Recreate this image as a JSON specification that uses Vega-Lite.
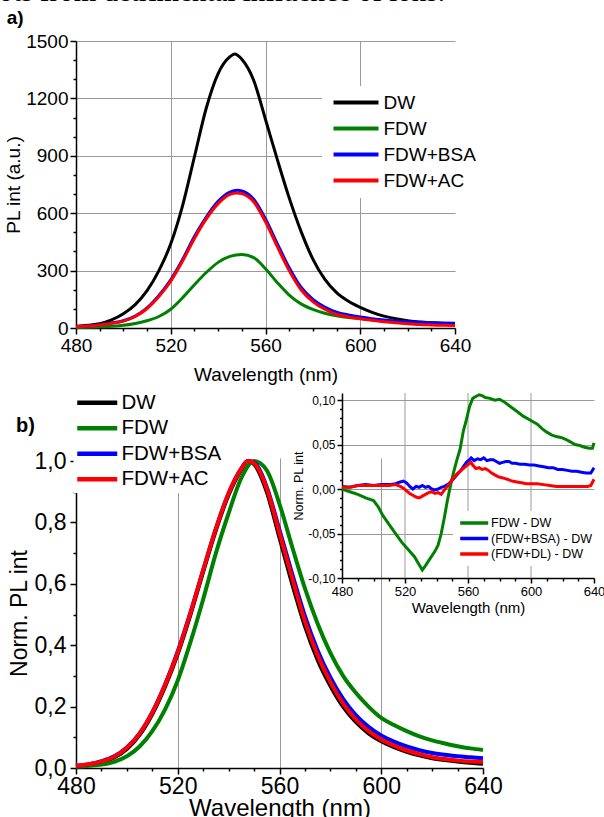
{
  "$schema": "https://vega.github.io/schema/vega-lite/v6.json",
  "padding": {"top": -22, "left": -2, "right": 0, "bottom": 0},
  "background": "white",
  "title": {"text": "ots from detrimental influence of ions.", "font": "Liberation Serif", "fontSize": 29, "fontWeight": "normal", "anchor": "start", "frame": "bounds", "color": "black", "offset": 2, "dx": -6},
  "datasets": {
    "a": [
      {"s":"DW","x":480,"y":8},{"s":"DW","x":485,"y":14},{"s":"DW","x":490,"y":22},{"s":"DW","x":495,"y":42},{"s":"DW","x":500,"y":74},{"s":"DW","x":505,"y":122},{"s":"DW","x":510,"y":195},{"s":"DW","x":515,"y":300},{"s":"DW","x":520,"y":440},{"s":"DW","x":525,"y":640},{"s":"DW","x":530,"y":895},{"s":"DW","x":535,"y":1150},{"s":"DW","x":540,"y":1330},{"s":"DW","x":545,"y":1418},{"s":"DW","x":547,"y":1432},{"s":"DW","x":550,"y":1405},{"s":"DW","x":555,"y":1295},{"s":"DW","x":560,"y":1090},{"s":"DW","x":565,"y":880},{"s":"DW","x":570,"y":680},{"s":"DW","x":575,"y":505},{"s":"DW","x":580,"y":360},{"s":"DW","x":585,"y":255},{"s":"DW","x":590,"y":185},{"s":"DW","x":595,"y":140},{"s":"DW","x":600,"y":108},{"s":"DW","x":605,"y":82},{"s":"DW","x":610,"y":62},{"s":"DW","x":615,"y":48},{"s":"DW","x":620,"y":38},{"s":"DW","x":625,"y":32},{"s":"DW","x":630,"y":27},{"s":"DW","x":635,"y":23},{"s":"DW","x":640,"y":21},
      {"s":"FDW","x":480,"y":3},{"s":"FDW","x":485,"y":4},{"s":"FDW","x":490,"y":6},{"s":"FDW","x":495,"y":9},{"s":"FDW","x":500,"y":14},{"s":"FDW","x":505,"y":24},{"s":"FDW","x":510,"y":38},{"s":"FDW","x":515,"y":60},{"s":"FDW","x":520,"y":98},{"s":"FDW","x":525,"y":158},{"s":"FDW","x":530,"y":226},{"s":"FDW","x":535,"y":290},{"s":"FDW","x":540,"y":343},{"s":"FDW","x":545,"y":374},{"s":"FDW","x":550,"y":384},{"s":"FDW","x":555,"y":368},{"s":"FDW","x":560,"y":310},{"s":"FDW","x":565,"y":237},{"s":"FDW","x":570,"y":172},{"s":"FDW","x":575,"y":126},{"s":"FDW","x":580,"y":97},{"s":"FDW","x":585,"y":77},{"s":"FDW","x":590,"y":64},{"s":"FDW","x":595,"y":55},{"s":"FDW","x":600,"y":49},{"s":"FDW","x":605,"y":43},{"s":"FDW","x":610,"y":37},{"s":"FDW","x":615,"y":32},{"s":"FDW","x":620,"y":28},{"s":"FDW","x":625,"y":24},{"s":"FDW","x":630,"y":21},{"s":"FDW","x":635,"y":19},{"s":"FDW","x":640,"y":18},
      {"s":"FDW+BSA","x":480,"y":8},{"s":"FDW+BSA","x":485,"y":11},{"s":"FDW+BSA","x":490,"y":17},{"s":"FDW+BSA","x":495,"y":26},{"s":"FDW+BSA","x":500,"y":38},{"s":"FDW+BSA","x":505,"y":62},{"s":"FDW+BSA","x":510,"y":105},{"s":"FDW+BSA","x":515,"y":170},{"s":"FDW+BSA","x":520,"y":252},{"s":"FDW+BSA","x":525,"y":358},{"s":"FDW+BSA","x":530,"y":478},{"s":"FDW+BSA","x":535,"y":580},{"s":"FDW+BSA","x":540,"y":662},{"s":"FDW+BSA","x":545,"y":710},{"s":"FDW+BSA","x":548,"y":720},{"s":"FDW+BSA","x":550,"y":716},{"s":"FDW+BSA","x":555,"y":673},{"s":"FDW+BSA","x":560,"y":570},{"s":"FDW+BSA","x":565,"y":440},{"s":"FDW+BSA","x":570,"y":315},{"s":"FDW+BSA","x":575,"y":213},{"s":"FDW+BSA","x":580,"y":150},{"s":"FDW+BSA","x":585,"y":110},{"s":"FDW+BSA","x":590,"y":83},{"s":"FDW+BSA","x":595,"y":68},{"s":"FDW+BSA","x":600,"y":57},{"s":"FDW+BSA","x":605,"y":49},{"s":"FDW+BSA","x":610,"y":42},{"s":"FDW+BSA","x":615,"y":37},{"s":"FDW+BSA","x":620,"y":33},{"s":"FDW+BSA","x":625,"y":30},{"s":"FDW+BSA","x":630,"y":28},{"s":"FDW+BSA","x":635,"y":26},{"s":"FDW+BSA","x":640,"y":25},
      {"s":"FDW+AC","x":480,"y":7},{"s":"FDW+AC","x":485,"y":10},{"s":"FDW+AC","x":490,"y":16},{"s":"FDW+AC","x":495,"y":24},{"s":"FDW+AC","x":500,"y":36},{"s":"FDW+AC","x":505,"y":60},{"s":"FDW+AC","x":510,"y":102},{"s":"FDW+AC","x":515,"y":165},{"s":"FDW+AC","x":520,"y":245},{"s":"FDW+AC","x":525,"y":350},{"s":"FDW+AC","x":530,"y":468},{"s":"FDW+AC","x":535,"y":570},{"s":"FDW+AC","x":540,"y":650},{"s":"FDW+AC","x":545,"y":698},{"s":"FDW+AC","x":548,"y":706},{"s":"FDW+AC","x":550,"y":702},{"s":"FDW+AC","x":555,"y":660},{"s":"FDW+AC","x":560,"y":555},{"s":"FDW+AC","x":565,"y":425},{"s":"FDW+AC","x":570,"y":300},{"s":"FDW+AC","x":575,"y":200},{"s":"FDW+AC","x":580,"y":138},{"s":"FDW+AC","x":585,"y":98},{"s":"FDW+AC","x":590,"y":72},{"s":"FDW+AC","x":595,"y":58},{"s":"FDW+AC","x":600,"y":48},{"s":"FDW+AC","x":605,"y":40},{"s":"FDW+AC","x":610,"y":33},{"s":"FDW+AC","x":615,"y":27},{"s":"FDW+AC","x":620,"y":22},{"s":"FDW+AC","x":625,"y":18},{"s":"FDW+AC","x":630,"y":16},{"s":"FDW+AC","x":635,"y":14},{"s":"FDW+AC","x":640,"y":13}
    ],
    "b": [
      {"s":"DW","x":480,"y":0.005},{"s":"DW","x":485,"y":0.010},{"s":"DW","x":490,"y":0.018},{"s":"DW","x":495,"y":0.034},{"s":"DW","x":500,"y":0.062},{"s":"DW","x":505,"y":0.108},{"s":"DW","x":510,"y":0.176},{"s":"DW","x":515,"y":0.265},{"s":"DW","x":520,"y":0.372},{"s":"DW","x":525,"y":0.500},{"s":"DW","x":530,"y":0.640},{"s":"DW","x":535,"y":0.775},{"s":"DW","x":540,"y":0.890},{"s":"DW","x":545,"y":0.972},{"s":"DW","x":547.5,"y":1.0},{"s":"DW","x":550,"y":0.990},{"s":"DW","x":555,"y":0.900},{"s":"DW","x":560,"y":0.750},{"s":"DW","x":565,"y":0.600},{"s":"DW","x":570,"y":0.462},{"s":"DW","x":575,"y":0.352},{"s":"DW","x":580,"y":0.268},{"s":"DW","x":585,"y":0.200},{"s":"DW","x":590,"y":0.150},{"s":"DW","x":595,"y":0.113},{"s":"DW","x":600,"y":0.087},{"s":"DW","x":605,"y":0.068},{"s":"DW","x":610,"y":0.053},{"s":"DW","x":615,"y":0.041},{"s":"DW","x":620,"y":0.032},{"s":"DW","x":625,"y":0.026},{"s":"DW","x":630,"y":0.021},{"s":"DW","x":635,"y":0.017},{"s":"DW","x":640,"y":0.014},
      {"s":"FDW","x":480,"y":0.004},{"s":"FDW","x":485,"y":0.007},{"s":"FDW","x":490,"y":0.011},{"s":"FDW","x":495,"y":0.020},{"s":"FDW","x":500,"y":0.038},{"s":"FDW","x":505,"y":0.070},{"s":"FDW","x":510,"y":0.120},{"s":"FDW","x":515,"y":0.190},{"s":"FDW","x":520,"y":0.285},{"s":"FDW","x":525,"y":0.410},{"s":"FDW","x":530,"y":0.550},{"s":"FDW","x":535,"y":0.700},{"s":"FDW","x":540,"y":0.830},{"s":"FDW","x":545,"y":0.945},{"s":"FDW","x":550,"y":1.0},{"s":"FDW","x":555,"y":0.970},{"s":"FDW","x":560,"y":0.860},{"s":"FDW","x":565,"y":0.720},{"s":"FDW","x":570,"y":0.585},{"s":"FDW","x":575,"y":0.470},{"s":"FDW","x":580,"y":0.375},{"s":"FDW","x":585,"y":0.300},{"s":"FDW","x":590,"y":0.245},{"s":"FDW","x":595,"y":0.200},{"s":"FDW","x":600,"y":0.163},{"s":"FDW","x":605,"y":0.140},{"s":"FDW","x":610,"y":0.120},{"s":"FDW","x":615,"y":0.103},{"s":"FDW","x":620,"y":0.090},{"s":"FDW","x":625,"y":0.080},{"s":"FDW","x":630,"y":0.071},{"s":"FDW","x":635,"y":0.064},{"s":"FDW","x":640,"y":0.059},
      {"s":"FDW+BSA","x":480,"y":0.007},{"s":"FDW+BSA","x":485,"y":0.012},{"s":"FDW+BSA","x":490,"y":0.022},{"s":"FDW+BSA","x":495,"y":0.038},{"s":"FDW+BSA","x":500,"y":0.067},{"s":"FDW+BSA","x":505,"y":0.113},{"s":"FDW+BSA","x":510,"y":0.182},{"s":"FDW+BSA","x":515,"y":0.272},{"s":"FDW+BSA","x":520,"y":0.380},{"s":"FDW+BSA","x":525,"y":0.507},{"s":"FDW+BSA","x":530,"y":0.645},{"s":"FDW+BSA","x":535,"y":0.780},{"s":"FDW+BSA","x":540,"y":0.895},{"s":"FDW+BSA","x":545,"y":0.976},{"s":"FDW+BSA","x":547.5,"y":1.0},{"s":"FDW+BSA","x":550,"y":0.995},{"s":"FDW+BSA","x":555,"y":0.915},{"s":"FDW+BSA","x":560,"y":0.775},{"s":"FDW+BSA","x":565,"y":0.632},{"s":"FDW+BSA","x":570,"y":0.495},{"s":"FDW+BSA","x":575,"y":0.383},{"s":"FDW+BSA","x":580,"y":0.295},{"s":"FDW+BSA","x":585,"y":0.225},{"s":"FDW+BSA","x":590,"y":0.172},{"s":"FDW+BSA","x":595,"y":0.134},{"s":"FDW+BSA","x":600,"y":0.106},{"s":"FDW+BSA","x":605,"y":0.086},{"s":"FDW+BSA","x":610,"y":0.070},{"s":"FDW+BSA","x":615,"y":0.058},{"s":"FDW+BSA","x":620,"y":0.049},{"s":"FDW+BSA","x":625,"y":0.043},{"s":"FDW+BSA","x":630,"y":0.038},{"s":"FDW+BSA","x":635,"y":0.035},{"s":"FDW+BSA","x":640,"y":0.032},
      {"s":"FDW+AC","x":480,"y":0.007},{"s":"FDW+AC","x":485,"y":0.012},{"s":"FDW+AC","x":490,"y":0.021},{"s":"FDW+AC","x":495,"y":0.037},{"s":"FDW+AC","x":500,"y":0.066},{"s":"FDW+AC","x":505,"y":0.112},{"s":"FDW+AC","x":510,"y":0.180},{"s":"FDW+AC","x":515,"y":0.270},{"s":"FDW+AC","x":520,"y":0.377},{"s":"FDW+AC","x":525,"y":0.505},{"s":"FDW+AC","x":530,"y":0.645},{"s":"FDW+AC","x":535,"y":0.780},{"s":"FDW+AC","x":540,"y":0.895},{"s":"FDW+AC","x":545,"y":0.975},{"s":"FDW+AC","x":547.5,"y":1.0},{"s":"FDW+AC","x":550,"y":0.993},{"s":"FDW+AC","x":555,"y":0.910},{"s":"FDW+AC","x":560,"y":0.765},{"s":"FDW+AC","x":565,"y":0.618},{"s":"FDW+AC","x":570,"y":0.478},{"s":"FDW+AC","x":575,"y":0.367},{"s":"FDW+AC","x":580,"y":0.280},{"s":"FDW+AC","x":585,"y":0.210},{"s":"FDW+AC","x":590,"y":0.158},{"s":"FDW+AC","x":595,"y":0.120},{"s":"FDW+AC","x":600,"y":0.093},{"s":"FDW+AC","x":605,"y":0.073},{"s":"FDW+AC","x":610,"y":0.057},{"s":"FDW+AC","x":615,"y":0.045},{"s":"FDW+AC","x":620,"y":0.035},{"s":"FDW+AC","x":625,"y":0.029},{"s":"FDW+AC","x":630,"y":0.024},{"s":"FDW+AC","x":635,"y":0.021},{"s":"FDW+AC","x":640,"y":0.020}
    ],
    "inset": [
      {"d":"FDW - DW","x":480,"y":0.000},{"d":"FDW - DW","x":485,"y":-0.003},{"d":"FDW - DW","x":490,"y":-0.006},{"d":"FDW - DW","x":495,"y":-0.010},{"d":"FDW - DW","x":500,"y":-0.013},{"d":"FDW - DW","x":503,"y":-0.020},{"d":"FDW - DW","x":506,"y":-0.030},{"d":"FDW - DW","x":510,"y":-0.040},{"d":"FDW - DW","x":514,"y":-0.050},{"d":"FDW - DW","x":518,"y":-0.060},{"d":"FDW - DW","x":522,"y":-0.068},{"d":"FDW - DW","x":526,"y":-0.076},{"d":"FDW - DW","x":529,"y":-0.085},{"d":"FDW - DW","x":531,"y":-0.091},{"d":"FDW - DW","x":533,"y":-0.086},{"d":"FDW - DW","x":536,"y":-0.078},{"d":"FDW - DW","x":539,"y":-0.070},{"d":"FDW - DW","x":541,"y":-0.063},{"d":"FDW - DW","x":543,"y":-0.050},{"d":"FDW - DW","x":545,"y":-0.032},{"d":"FDW - DW","x":547,"y":-0.012},{"d":"FDW - DW","x":549,"y":0.005},{"d":"FDW - DW","x":551,"y":0.020},{"d":"FDW - DW","x":553,"y":0.033},{"d":"FDW - DW","x":555,"y":0.045},{"d":"FDW - DW","x":557,"y":0.065},{"d":"FDW - DW","x":559,"y":0.078},{"d":"FDW - DW","x":561,"y":0.093},{"d":"FDW - DW","x":563,"y":0.102},{"d":"FDW - DW","x":565,"y":0.104},{"d":"FDW - DW","x":567,"y":0.106},{"d":"FDW - DW","x":569,"y":0.105},{"d":"FDW - DW","x":571,"y":0.103},{"d":"FDW - DW","x":574,"y":0.102},{"d":"FDW - DW","x":577,"y":0.100},{"d":"FDW - DW","x":580,"y":0.101},{"d":"FDW - DW","x":583,"y":0.098},{"d":"FDW - DW","x":586,"y":0.094},{"d":"FDW - DW","x":589,"y":0.090},{"d":"FDW - DW","x":592,"y":0.086},{"d":"FDW - DW","x":595,"y":0.082},{"d":"FDW - DW","x":598,"y":0.079},{"d":"FDW - DW","x":601,"y":0.076},{"d":"FDW - DW","x":604,"y":0.073},{"d":"FDW - DW","x":607,"y":0.068},{"d":"FDW - DW","x":610,"y":0.064},{"d":"FDW - DW","x":613,"y":0.061},{"d":"FDW - DW","x":616,"y":0.059},{"d":"FDW - DW","x":619,"y":0.058},{"d":"FDW - DW","x":622,"y":0.056},{"d":"FDW - DW","x":625,"y":0.053},{"d":"FDW - DW","x":628,"y":0.050},{"d":"FDW - DW","x":631,"y":0.049},{"d":"FDW - DW","x":634,"y":0.047},{"d":"FDW - DW","x":637,"y":0.046},{"d":"FDW - DW","x":639,"y":0.046},{"d":"FDW - DW","x":640,"y":0.052},
      {"d":"(FDW+BSA) - DW","x":480,"y":0.003},{"d":"(FDW+BSA) - DW","x":485,"y":0.002},{"d":"(FDW+BSA) - DW","x":490,"y":0.004},{"d":"(FDW+BSA) - DW","x":495,"y":0.005},{"d":"(FDW+BSA) - DW","x":500,"y":0.004},{"d":"(FDW+BSA) - DW","x":505,"y":0.005},{"d":"(FDW+BSA) - DW","x":510,"y":0.005},{"d":"(FDW+BSA) - DW","x":514,"y":0.006},{"d":"(FDW+BSA) - DW","x":517,"y":0.008},{"d":"(FDW+BSA) - DW","x":519,"y":0.009},{"d":"(FDW+BSA) - DW","x":521,"y":0.007},{"d":"(FDW+BSA) - DW","x":523,"y":0.003},{"d":"(FDW+BSA) - DW","x":525,"y":0.000},{"d":"(FDW+BSA) - DW","x":527,"y":0.003},{"d":"(FDW+BSA) - DW","x":529,"y":0.002},{"d":"(FDW+BSA) - DW","x":531,"y":0.004},{"d":"(FDW+BSA) - DW","x":533,"y":0.002},{"d":"(FDW+BSA) - DW","x":535,"y":0.003},{"d":"(FDW+BSA) - DW","x":537,"y":0.000},{"d":"(FDW+BSA) - DW","x":539,"y":-0.001},{"d":"(FDW+BSA) - DW","x":541,"y":0.000},{"d":"(FDW+BSA) - DW","x":543,"y":0.002},{"d":"(FDW+BSA) - DW","x":545,"y":0.003},{"d":"(FDW+BSA) - DW","x":547,"y":0.005},{"d":"(FDW+BSA) - DW","x":549,"y":0.008},{"d":"(FDW+BSA) - DW","x":551,"y":0.012},{"d":"(FDW+BSA) - DW","x":553,"y":0.016},{"d":"(FDW+BSA) - DW","x":555,"y":0.020},{"d":"(FDW+BSA) - DW","x":557,"y":0.025},{"d":"(FDW+BSA) - DW","x":559,"y":0.030},{"d":"(FDW+BSA) - DW","x":561,"y":0.033},{"d":"(FDW+BSA) - DW","x":562,"y":0.035},{"d":"(FDW+BSA) - DW","x":564,"y":0.032},{"d":"(FDW+BSA) - DW","x":566,"y":0.034},{"d":"(FDW+BSA) - DW","x":568,"y":0.033},{"d":"(FDW+BSA) - DW","x":570,"y":0.035},{"d":"(FDW+BSA) - DW","x":572,"y":0.032},{"d":"(FDW+BSA) - DW","x":574,"y":0.033},{"d":"(FDW+BSA) - DW","x":576,"y":0.033},{"d":"(FDW+BSA) - DW","x":578,"y":0.031},{"d":"(FDW+BSA) - DW","x":580,"y":0.029},{"d":"(FDW+BSA) - DW","x":582,"y":0.030},{"d":"(FDW+BSA) - DW","x":584,"y":0.031},{"d":"(FDW+BSA) - DW","x":586,"y":0.031},{"d":"(FDW+BSA) - DW","x":588,"y":0.029},{"d":"(FDW+BSA) - DW","x":590,"y":0.029},{"d":"(FDW+BSA) - DW","x":593,"y":0.028},{"d":"(FDW+BSA) - DW","x":596,"y":0.028},{"d":"(FDW+BSA) - DW","x":599,"y":0.027},{"d":"(FDW+BSA) - DW","x":602,"y":0.027},{"d":"(FDW+BSA) - DW","x":605,"y":0.026},{"d":"(FDW+BSA) - DW","x":608,"y":0.025},{"d":"(FDW+BSA) - DW","x":611,"y":0.024},{"d":"(FDW+BSA) - DW","x":614,"y":0.024},{"d":"(FDW+BSA) - DW","x":617,"y":0.022},{"d":"(FDW+BSA) - DW","x":620,"y":0.022},{"d":"(FDW+BSA) - DW","x":623,"y":0.021},{"d":"(FDW+BSA) - DW","x":626,"y":0.020},{"d":"(FDW+BSA) - DW","x":629,"y":0.020},{"d":"(FDW+BSA) - DW","x":632,"y":0.019},{"d":"(FDW+BSA) - DW","x":635,"y":0.018},{"d":"(FDW+BSA) - DW","x":638,"y":0.018},{"d":"(FDW+BSA) - DW","x":640,"y":0.024},
      {"d":"(FDW+DL) - DW","x":480,"y":0.002},{"d":"(FDW+DL) - DW","x":485,"y":0.002},{"d":"(FDW+DL) - DW","x":490,"y":0.004},{"d":"(FDW+DL) - DW","x":495,"y":0.004},{"d":"(FDW+DL) - DW","x":500,"y":0.004},{"d":"(FDW+DL) - DW","x":505,"y":0.004},{"d":"(FDW+DL) - DW","x":510,"y":0.004},{"d":"(FDW+DL) - DW","x":514,"y":0.005},{"d":"(FDW+DL) - DW","x":517,"y":0.003},{"d":"(FDW+DL) - DW","x":519,"y":0.001},{"d":"(FDW+DL) - DW","x":521,"y":-0.002},{"d":"(FDW+DL) - DW","x":523,"y":-0.005},{"d":"(FDW+DL) - DW","x":525,"y":-0.007},{"d":"(FDW+DL) - DW","x":527,"y":-0.009},{"d":"(FDW+DL) - DW","x":529,"y":-0.010},{"d":"(FDW+DL) - DW","x":531,"y":-0.008},{"d":"(FDW+DL) - DW","x":533,"y":-0.006},{"d":"(FDW+DL) - DW","x":535,"y":-0.004},{"d":"(FDW+DL) - DW","x":537,"y":-0.003},{"d":"(FDW+DL) - DW","x":539,"y":-0.005},{"d":"(FDW+DL) - DW","x":541,"y":-0.004},{"d":"(FDW+DL) - DW","x":543,"y":-0.006},{"d":"(FDW+DL) - DW","x":545,"y":-0.001},{"d":"(FDW+DL) - DW","x":547,"y":0.003},{"d":"(FDW+DL) - DW","x":549,"y":0.008},{"d":"(FDW+DL) - DW","x":551,"y":0.013},{"d":"(FDW+DL) - DW","x":553,"y":0.017},{"d":"(FDW+DL) - DW","x":555,"y":0.020},{"d":"(FDW+DL) - DW","x":557,"y":0.023},{"d":"(FDW+DL) - DW","x":559,"y":0.026},{"d":"(FDW+DL) - DW","x":561,"y":0.029},{"d":"(FDW+DL) - DW","x":562,"y":0.030},{"d":"(FDW+DL) - DW","x":563,"y":0.027},{"d":"(FDW+DL) - DW","x":565,"y":0.023},{"d":"(FDW+DL) - DW","x":567,"y":0.024},{"d":"(FDW+DL) - DW","x":569,"y":0.022},{"d":"(FDW+DL) - DW","x":571,"y":0.023},{"d":"(FDW+DL) - DW","x":573,"y":0.021},{"d":"(FDW+DL) - DW","x":575,"y":0.018},{"d":"(FDW+DL) - DW","x":577,"y":0.016},{"d":"(FDW+DL) - DW","x":579,"y":0.014},{"d":"(FDW+DL) - DW","x":581,"y":0.013},{"d":"(FDW+DL) - DW","x":583,"y":0.012},{"d":"(FDW+DL) - DW","x":585,"y":0.011},{"d":"(FDW+DL) - DW","x":588,"y":0.009},{"d":"(FDW+DL) - DW","x":591,"y":0.008},{"d":"(FDW+DL) - DW","x":594,"y":0.007},{"d":"(FDW+DL) - DW","x":597,"y":0.006},{"d":"(FDW+DL) - DW","x":600,"y":0.006},{"d":"(FDW+DL) - DW","x":604,"y":0.006},{"d":"(FDW+DL) - DW","x":608,"y":0.005},{"d":"(FDW+DL) - DW","x":612,"y":0.004},{"d":"(FDW+DL) - DW","x":616,"y":0.003},{"d":"(FDW+DL) - DW","x":620,"y":0.003},{"d":"(FDW+DL) - DW","x":624,"y":0.003},{"d":"(FDW+DL) - DW","x":628,"y":0.003},{"d":"(FDW+DL) - DW","x":632,"y":0.003},{"d":"(FDW+DL) - DW","x":636,"y":0.003},{"d":"(FDW+DL) - DW","x":638,"y":0.004},{"d":"(FDW+DL) - DW","x":640,"y":0.011}
    ]
  },
  "spacing": 4,
  "resolve": {"scale": {"color": "independent"}, "legend": {"color": "independent"}},
  "vconcat": [
    {
      "title": {"text": "a)", "fontSize": 19, "fontWeight": "bold", "font": "Liberation Sans", "anchor": "start", "frame": "bounds", "offset": 4, "dx": 2, "color": "black"},
      "width": 379,
      "height": 287,
      "data": {"name": "a"},
      "mark": {"type": "line", "strokeWidth": 3, "interpolate": "monotone"},
      "encoding": {
        "x": {"field": "x", "type": "quantitative", "scale": {"domain": [480, 640], "nice": false, "zero": false},
          "axis": {"title": "Wavelength (nm)", "values": [480,490,500,510,520,530,540,550,560,570,580,590,600,610,620,630,640],
            "labelExpr": "datum.value % 40 == 0 ? format(datum.value, 'd') : ''",
            "tickSize": {"condition": {"test": "datum.value % 40 == 0", "value": 6}, "value": 3},
            "grid": true,
            "gridOpacity": {"condition": {"test": "datum.value == 520 || datum.value == 560 || datum.value == 600", "value": 1}, "value": 0},
            "labelFontSize": 19, "titleFontSize": 19, "labelPadding": 2, "titlePadding": 10}},
        "y": {"field": "y", "type": "quantitative", "scale": {"domain": [0, 1500], "nice": false},
          "axis": {"title": "PL int (a.u.)", "values": [0,100,200,300,400,500,600,700,800,900,1000,1100,1200,1300,1400,1500],
            "labelExpr": "datum.value % 300 == 0 ? format(datum.value, 'd') : ''",
            "tickSize": {"condition": {"test": "datum.value % 300 == 0", "value": 6}, "value": 3},
            "grid": true,
            "gridOpacity": {"condition": {"test": "datum.value % 300 == 0 && datum.value > 0", "value": 1}, "value": 0},
            "labelFontSize": 19, "titleFontSize": 19, "labelPadding": 2, "titlePadding": 2}},
        "color": {"field": "s", "type": "nominal",
          "scale": {"domain": ["DW", "FDW", "FDW+BSA", "FDW+AC"], "range": ["#000000", "#008000", "#0000ff", "#ff0000"]},
          "legend": {"orient": "none", "legendX": 246, "legendY": 45, "title": null, "fillColor": "white", "padding": 7,
            "symbolType": "M-4.5,0H4.5", "symbolSize": 100, "symbolStrokeWidth": 4, "symbolOffset": 17.5, "labelOffset": 18,
            "labelFontSize": 19, "rowPadding": 6}}
      }
    },
    {
      "title": {"text": "b)", "fontSize": 20, "fontWeight": "bold", "font": "Liberation Sans", "anchor": "start", "frame": "bounds", "offset": 0, "dx": 8, "dy": 47, "color": "black"},
      "width": 407,
      "height": 310,
      "resolve": {"scale": {"x": "independent", "y": "independent", "color": "independent"}, "axis": {"x": "independent", "y": "independent"}, "legend": {"color": "independent"}},
      "layer": [
        {
          "data": {"name": "b"},
          "mark": {"type": "line", "strokeWidth": 4, "interpolate": "monotone"},
          "encoding": {
            "x": {"field": "x", "type": "quantitative", "scale": {"domain": [480, 640], "nice": false, "zero": false},
              "axis": {"orient": "bottom", "title": "Wavelength (nm)", "values": [480,490,500,510,520,530,540,550,560,570,580,590,600,610,620,630,640],
                "labelExpr": "datum.value % 40 == 0 ? format(datum.value, 'd') : ''",
                "tickSize": {"condition": {"test": "datum.value % 40 == 0", "value": 6}, "value": 3},
                "grid": true,
                "gridOpacity": {"condition": {"test": "datum.value == 520 || datum.value == 560 || datum.value == 600", "value": 1}, "value": 0},
                "labelFontSize": 23, "titleFontSize": 24, "labelPadding": 1, "titlePadding": -2}},
            "y": {"field": "y", "type": "quantitative", "scale": {"domain": [0, 1.01], "nice": false},
              "axis": {"orient": "left", "title": "Norm. PL int", "values": [0,0.1,0.2,0.3,0.4,0.5,0.6,0.7,0.8,0.9,1.0],
                "labelExpr": "abs(datum.value*5 - round(datum.value*5)) < 0.001 ? replace(format(datum.value, '.1f'), '.', ',') : ''",
                "tickSize": {"condition": {"test": "abs(datum.value*5 - round(datum.value*5)) < 0.001", "value": 6}, "value": 3},
                "grid": false,
                "labelFontSize": 23, "titleFontSize": 23, "labelPadding": 4, "titlePadding": 3}},
            "color": {"field": "s", "type": "nominal",
              "scale": {"domain": ["DW", "FDW", "FDW+BSA", "FDW+AC"], "range": ["#000000", "#008000", "#0000ff", "#ff0000"]},
              "legend": {"orient": "none", "legendX": -2.5, "legendY": -68, "title": null, "fillColor": "white", "padding": 2.5,
                "symbolType": "M-4,0H4", "symbolSize": 100, "symbolStrokeWidth": 4.5, "symbolOffset": 11, "labelOffset": 14,
                "labelFontSize": 20.5, "rowPadding": 4.5}}
          }
        },
        {"data": {"values": [{}]}, "mark": {"type": "rule", "color": "#9a9a9a", "strokeWidth": 1},
         "encoding": {"x": {"datum": 520, "type": "quantitative", "scale": {"domain": [480, 640], "nice": false, "zero": false, "range": [266, 518]}, "axis": null},
                      "y": {"datum": -0.1, "type": "quantitative", "scale": {"domain": [-0.1, 0.108], "nice": false, "zero": false, "range": [120, -65]}, "axis": null},
                      "y2": {"datum": 0.108}}},
        {"data": {"values": [{}]}, "mark": {"type": "rule", "color": "#9a9a9a", "strokeWidth": 1},
         "encoding": {"x": {"datum": 560, "type": "quantitative", "scale": {"domain": [480, 640], "nice": false, "zero": false, "range": [266, 518]}, "axis": null},
                      "y": {"datum": -0.1, "type": "quantitative", "scale": {"domain": [-0.1, 0.108], "nice": false, "zero": false, "range": [120, -65]}, "axis": null},
                      "y2": {"datum": 0.108}}},
        {"data": {"values": [{}]}, "mark": {"type": "rule", "color": "#9a9a9a", "strokeWidth": 1},
         "encoding": {"x": {"datum": 600, "type": "quantitative", "scale": {"domain": [480, 640], "nice": false, "zero": false, "range": [266, 518]}, "axis": null},
                      "y": {"datum": -0.1, "type": "quantitative", "scale": {"domain": [-0.1, 0.108], "nice": false, "zero": false, "range": [120, -65]}, "axis": null},
                      "y2": {"datum": 0.108}}},
        {
          "data": {"name": "inset"},
          "mark": {"type": "line", "strokeWidth": 3},
          "encoding": {
            "x": {"field": "x", "type": "quantitative", "scale": {"domain": [480, 640], "nice": false, "zero": false, "range": [266, 518]},
              "axis": {"orient": "bottom", "offset": -190, "title": "Wavelength (nm)", "values": [480,490,500,510,520,530,540,550,560,570,580,590,600,610,620,630,640],
                "labelExpr": "datum.value % 40 == 0 ? format(datum.value, 'd') : ''",
                "tickSize": {"condition": {"test": "datum.value % 40 == 0", "value": 5}, "value": 3},
                "grid": false,
                "labelFontSize": 13, "titleFontSize": 15, "labelPadding": 2, "titlePadding": 2}},
            "y": {"field": "y", "type": "quantitative", "scale": {"domain": [-0.1, 0.108], "nice": false, "zero": false, "range": [120, -65]},
              "axis": {"orient": "left", "offset": -266, "title": "Norm. PL int",
                "values": [-0.1,-0.09,-0.08,-0.07,-0.06,-0.05,-0.04,-0.03,-0.02,-0.01,0,0.01,0.02,0.03,0.04,0.05,0.06,0.07,0.08,0.09,0.1],
                "labelExpr": "abs(datum.value*20 - round(datum.value*20)) < 0.001 ? replace(replace(format(datum.value, '.2f'), '.', ','), '\u2212', '-') : ''",
                "tickSize": {"condition": {"test": "abs(datum.value*20 - round(datum.value*20)) < 0.001", "value": 5}, "value": 2.5},
                "grid": true,
                "gridOpacity": {"condition": {"test": "abs(datum.value*20 - round(datum.value*20)) < 0.001 && datum.value > -0.09", "value": 1}, "value": 0},
                "labelFontSize": 12, "titleFontSize": 12.5, "labelPadding": 2, "titlePadding": 2}},
            "color": {"field": "d", "type": "nominal",
              "scale": {"domain": ["FDW - DW", "(FDW+BSA) - DW", "(FDW+DL) - DW"], "range": ["#008000", "#0000ff", "#ff0000"]},
              "legend": {"orient": "none", "legendX": 377, "legendY": 53, "title": null, "fillColor": "white", "padding": 5,
                "symbolType": "M-2.8,0H2.8", "symbolSize": 100, "symbolStrokeWidth": 3.5, "symbolOffset": 9.2, "labelOffset": 9.8,
                "labelFontSize": 12.5, "rowPadding": 1.5}}
          }
        }
      ]
    }
  ],
  "config": {
    "view": {"stroke": null},
    "axis": {"labelFont": "Liberation Sans", "titleFont": "Liberation Sans", "labelColor": "black", "titleColor": "black",
      "titleFontWeight": "normal", "domainColor": "black", "tickColor": "black", "domainWidth": 1.5, "tickWidth": 1.5,
      "gridColor": "#9a9a9a", "gridWidth": 1, "labelOverlap": false, "labelFlush": false, "labelBound": false},
    "legend": {"labelFont": "Liberation Sans", "labelColor": "black", "labelLimit": 300}
  }
}
